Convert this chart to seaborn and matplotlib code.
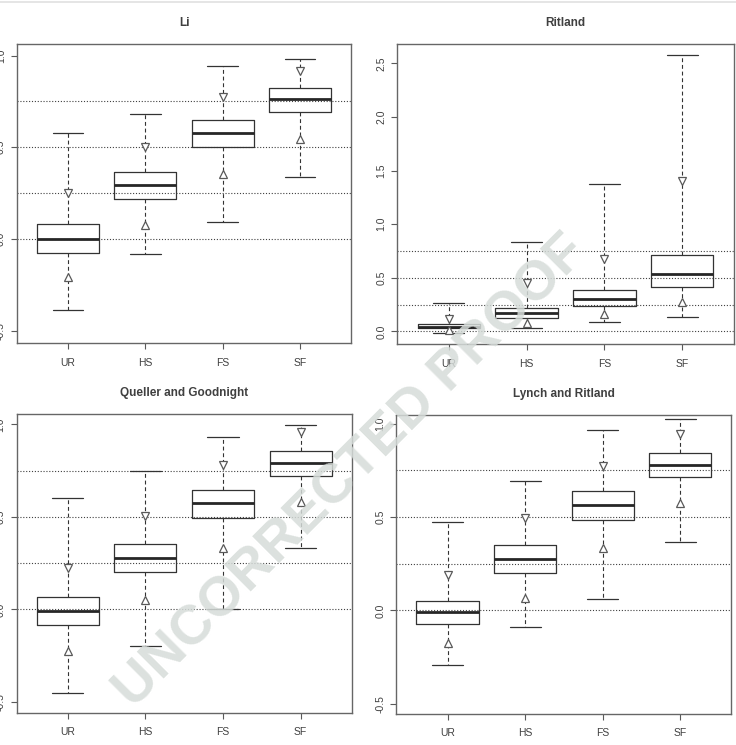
import numpy as np
import pandas as pd
import matplotlib
matplotlib.use("Agg")
import matplotlib.pyplot as plt
from matplotlib.lines import Line2D
from matplotlib import font_manager
import seaborn as sns

# ===== DATA =====
CATEGORIES = ["UR", "HS", "FS", "SF"]

# each row: [whisker low, Q1, median, Q3, whisker high]
LI_BOX = [[-0.389, -0.078, 0.000, 0.082, 0.576],
          [-0.082, 0.216, 0.293, 0.364, 0.682],
          [0.094, 0.502, 0.578, 0.649, 0.943],
          [0.336, 0.692, 0.762, 0.822, 0.983]]
LI_DOWN = [0.253, 0.500, 0.776, 0.916]
LI_UP = [-0.209, 0.075, 0.356, 0.544]

RITLAND_BOX = [[-0.013, 0.028, 0.043, 0.065, 0.267],
               [0.028, 0.127, 0.168, 0.220, 0.830],
               [0.084, 0.236, 0.301, 0.388, 1.374],
               [0.136, 0.413, 0.535, 0.715, 2.577]]
RITLAND_DOWN = [0.112, 0.448, 0.677, 1.399]
RITLAND_UP = [0.012, 0.080, 0.161, 0.270]

QG_BOX = [[-0.452, -0.086, -0.007, 0.068, 0.604],
          [-0.196, 0.200, 0.279, 0.355, 0.748],
          [0.000, 0.492, 0.573, 0.647, 0.930],
          [0.330, 0.723, 0.791, 0.858, 0.998]]
QG_DOWN = [0.225, 0.505, 0.782, 0.957]
QG_UP = [-0.227, 0.050, 0.333, 0.582]

LR_BOX = [[-0.291, -0.075, -0.009, 0.052, 0.471],
          [-0.091, 0.202, 0.277, 0.352, 0.693],
          [0.061, 0.482, 0.563, 0.639, 0.964],
          [0.364, 0.713, 0.780, 0.841, 1.025]]
LR_DOWN = [0.189, 0.493, 0.775, 0.943]
LR_UP = [-0.173, 0.066, 0.332, 0.573]

REF_LINES = [0.0, 0.25, 0.5, 0.75]

PANELS = [
    ("Li", LI_BOX, LI_DOWN, LI_UP, [0.023, 0.5396, 0.454, 0.4013], (-0.567, 1.063), [-0.5, 0.0, 0.5, 1.0]),
    ("Ritland", RITLAND_BOX, RITLAND_DOWN, RITLAND_UP, [0.5398, 0.5383, 0.4571, 0.4030], (-0.118, 2.683),
     [0.0, 0.5, 1.0, 1.5, 2.0, 2.5]),
    ("Queller and Goodnight", QG_BOX, QG_DOWN, QG_UP, [0.0227, 0.0434, 0.4552, 0.4013], (-0.559, 1.058),
     [-0.5, 0.0, 0.5, 1.0]),
    ("Lynch and Ritland", LR_BOX, LR_DOWN, LR_UP, [0.5385, 0.0420, 0.4551, 0.4013], (-0.554, 1.048),
     [-0.5, 0.0, 0.5, 1.0]),
]

# ===== STYLE =====
sns.set_style("white")
plt.rcParams["font.family"] = ["Liberation Sans", "DejaVu Sans"]
TEXT = "0.25"
LINE = "0.2"

installed = {f.name for f in font_manager.fontManager.ttflist}
WM_FAMILY = ["Liberation Sans Narrow"] if "Liberation Sans Narrow" in installed else ["Liberation Sans"]
WM_SIZE = 46 if "Liberation Sans Narrow" in installed else 40


def draw_panel(fig, title, box, down, up, rect, ylim, yticks):
    ax = fig.add_axes(rect)
    df = pd.DataFrame({
        "group": np.repeat(CATEGORIES, 5),
        "value": np.ravel(box),
    })

    for v in REF_LINES:
        ax.axhline(v, color="0.25", lw=0.8, ls=(0, (1, 1.6)), zorder=1)

    sns.boxplot(data=df, x="group", y="value", order=CATEGORIES, ax=ax,
                whis=np.inf, width=0.8, fill=False, color=LINE, linewidth=0.9,
                showfliers=False,
                whiskerprops=dict(linestyle=(0, (3.5, 2.5)), linewidth=0.8),
                capprops=dict(linewidth=0.9),
                medianprops=dict(linewidth=2.0, color="0.15"))

    pos = np.arange(len(CATEGORIES))
    ax.plot(pos, down, ls="none", marker="v", ms=5.5, mfc="white", mec="0.35", mew=0.9, zorder=4)
    ax.plot(pos, up, ls="none", marker="^", ms=5.5, mfc="white", mec="0.35", mew=0.9, zorder=4)

    ax.set_xlim(-0.66, 3.66)
    ax.set_ylim(*ylim)
    ax.set_yticks(yticks)
    ax.set_yticklabels([f"{t:.1f}" for t in yticks], rotation=90, va="center")
    ax.set_xticks(pos)
    ax.set_xticklabels(CATEGORIES)
    ax.set_xlabel("")
    ax.set_ylabel("")
    ax.tick_params(axis="both", length=4.5, width=0.8, color="0.35", labelsize=7.5,
                   labelcolor=TEXT, left=True, bottom=True)
    ax.tick_params(axis="x", pad=6)
    ax.tick_params(axis="y", pad=3.5)
    for sp in ax.spines.values():
        sp.set_color("0.4")
        sp.set_linewidth(1.0)
    ax.set_title(title, fontsize=8.5, fontweight="bold", color=TEXT, pad=13)
    return ax


fig = plt.figure(figsize=(7.36, 7.45), dpi=100)
for title, box, down, up, rect, ylim, yticks in PANELS:
    draw_panel(fig, title, box, down, up, rect, ylim, yticks)

# thin rule at the very top of the page
fig.add_artist(Line2D([0, 1], [0.9975, 0.9975], color="0.88", lw=1.2))

# proof watermark
fig.text(0.477, 0.366, "UNCORRECTED PROOF", rotation=45, ha="center", va="center",
         fontsize=WM_SIZE, fontweight="bold", color="#d6dcd9", alpha=0.85, zorder=10,
         family=WM_FAMILY)

fig.savefig("out.png", dpi=100)
